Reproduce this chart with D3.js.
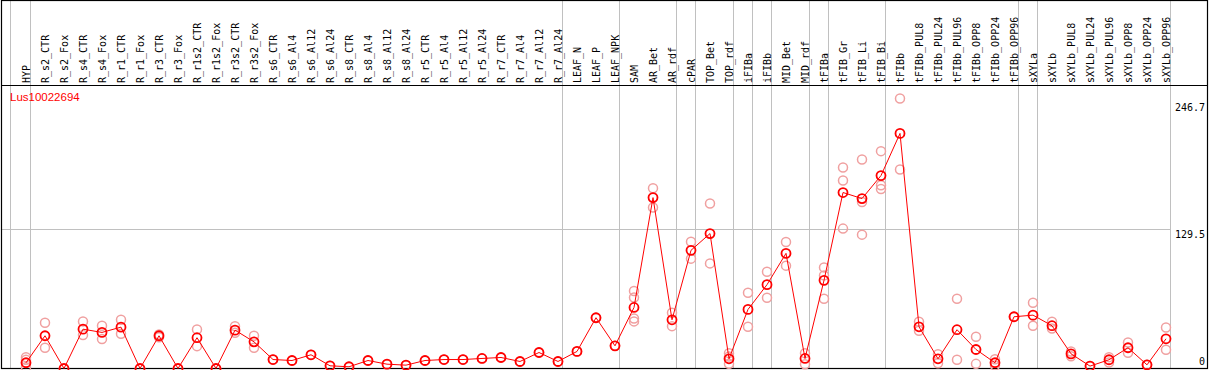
<!DOCTYPE html>
<html><head><meta charset="utf-8">
<script src="https://cdn.jsdelivr.net/npm/d3@7"></script>
<style>body{margin:0;background:#fff}svg{display:block}</style>
</head><body>
<script>
const categories = ["HYP","R_s2_CTR","R_s2_Fox","R_s4_CTR","R_s4_Fox","R_r1_CTR","R_r1_Fox","R_r3_CTR","R_r3_Fox","R_r1s2_CTR","R_r1s2_Fox","R_r3s2_CTR","R_r3s2_Fox","R_s6_CTR","R_s6_Al4","R_s6_Al12","R_s6_Al24","R_s8_CTR","R_s8_Al4","R_s8_Al12","R_s8_Al24","R_r5_CTR","R_r5_Al4","R_r5_Al12","R_r5_Al24","R_r7_CTR","R_r7_Al4","R_r7_Al12","R_r7_Al24","LEAF_N","LEAF_P","LEAF_NPK","SAM","AR_Bet","AR_rdf","cPAR","TOP_Bet","TOP_rdf","iFIBa","iFIBb","MID_Bet","MID_rdf","tFIBa","tFIB_Gr","tFIB_Li","tFIB_Bi","tFIBb","tFIBb_PUL8","tFIBb_PUL24","tFIBb_PUL96","tFIBb_OPP8","tFIBb_OPP24","tFIBb_OPP96","sXYLa","sXYLb","sXYLb_PUL8","sXYLb_PUL24","sXYLb_PUL96","sXYLb_OPP8","sXYLb_OPP24","sXYLb_OPP96"];
const means = [5.3,30.3,0,36.4,33.4,38.3,0,30.3,0,28.5,0,35.5,24.7,8.3,7.4,12.7,2.5,1.6,7.4,4.0,3.1,7.4,8.3,8.3,9.3,10.2,6.5,14.8,6.5,15.8,47.0,21.0,56.5,158.2,45.1,109.4,124.9,9.0,54.7,77.6,106.6,9.3,81.6,162.9,157.3,178.6,217.6,38.6,9.0,35.9,17.6,5.3,47.9,49.4,39.6,13.6,2.2,8.1,19.2,3.4,27.5];
const replicates = [[10.5,8,1.2],[42.4,19.2],[0],[43.6,30.9],[39.6,27.2],[45.1,32.2],[0],[31.5,29],[0],[36.2,20.7],[0],[39.2,33.1],[30.3,19.2],[8.3],[7.4],[12.7],[2.5],[1.6],[7.4],[4.0],[3.1],[7.4],[8.3],[8.3],[9.3],[10.2],[6.5],[14.8],[6.5],[15.8],[47.0],[21.0],[71.7,65.8,46.3,43.6],[166.9,149],[51.6,39.2],[117.4,101.7],[152.7,97.3],[14.2,4.3,11],[70.2,38.6],[89.6,65.5],[117.1,95.2],[14.2,4.0],[93.6,86.2,64.6],[186,174,129.5],[193.5,154.2,123.9],[201.2,169.6,166.2],[250,184.2],[43.3,34.9],[13.3,4.9],[64.6,8.1],[29.4,4.3],[8.6,2.8],[47.9],[60.9,39.6],[43.3,37.1],[15.8,11.4],[2.2],[10.5,5.6],[24.1,14.5],[3.4],[38,17.3]];
const groupEnds = [-1,0,28,31,34,35,37,38,39,41,42,45,52,53,60];
const yTicks = [0,129.5,246.7];
const geneName = "Lus10022694";

const W = 1209, H = 370;
const svg = d3.select("body").append("svg").attr("width", W).attr("height", H);

const x = d3.scalePoint().domain(categories).range([26, 26 + 19*(categories.length-1)]);
const y = d3.scaleLinear().domain([0, 246.7]).range([368.5, 102]);

// vertical group lines
svg.append("g").selectAll("line").data(groupEnds).join("line")
  .attr("x1", d => d < 0 ? 10.5 : x(categories[d]) + 4.5)
  .attr("x2", d => d < 0 ? 10.5 : x(categories[d]) + 4.5)
  .attr("y1", 0).attr("y2", 369)
  .attr("stroke", "#c0c0c0").attr("stroke-width", 1);

// horizontal grid at middle tick
svg.append("line").attr("x1", 1).attr("x2", 1170.5)
  .attr("y1", Math.round(y(129.5)) + 0.5).attr("y2", Math.round(y(129.5)) + 0.5)
  .attr("stroke", "#c0c0c0").attr("stroke-width", 1);

// frame
svg.append("rect").attr("x", 1.5).attr("y", 0.5).attr("width", 1206).attr("height", 368)
  .attr("fill", "none").attr("stroke", "#000").attr("stroke-width", 1.2);
svg.append("line").attr("x1", 1).attr("x2", 1208).attr("y1", 85.5).attr("y2", 85.5)
  .attr("stroke", "#000").attr("stroke-width", 1.2);

// category labels
svg.append("g").selectAll("text").data(categories).join("text")
  .attr("transform", d => `translate(${x(d) + 4},83) rotate(-90)`)
  .attr("font-family", "DejaVu Sans Mono, monospace").attr("font-size", 10)
  .attr("fill", "#000").text(d => d);

// y tick labels
svg.append("g").selectAll("text").data(yTicks).join("text")
  .attr("x", 1205).attr("y", d => d === 0 ? 365 : y(d) + 9)
  .attr("text-anchor", "end")
  .attr("font-family", "DejaVu Sans Mono, monospace").attr("font-size", 10)
  .attr("fill", "#000").text(d => d);

// gene label
svg.append("text").attr("x", 10).attr("y", 101)
  .attr("font-family", "Liberation Sans, Arial, sans-serif").attr("font-size", 11.5)
  .attr("fill", "#ff0000").text(geneName);

// replicates
const repData = [];
replicates.forEach((arr, i) => arr.forEach(v => repData.push({c: categories[i], v})));
svg.append("g").selectAll("circle").data(repData).join("circle")
  .attr("cx", d => x(d.c)).attr("cy", d => y(d.v)).attr("r", 4.5)
  .attr("fill", "none").attr("stroke", "#f0a0a0").attr("stroke-width", 1.5);

// mean line
const line = d3.line().x((d, i) => x(categories[i])).y(d => y(d));
svg.append("path").datum(means).attr("d", line)
  .attr("fill", "none").attr("stroke", "#ff0000").attr("stroke-width", 1);

// mean points
svg.append("g").selectAll("circle").data(means).join("circle")
  .attr("cx", (d, i) => x(categories[i])).attr("cy", d => y(d)).attr("r", 4.5)
  .attr("fill", "none").attr("stroke", "#ff0000").attr("stroke-width", 1.8);
</script>
</body></html>
